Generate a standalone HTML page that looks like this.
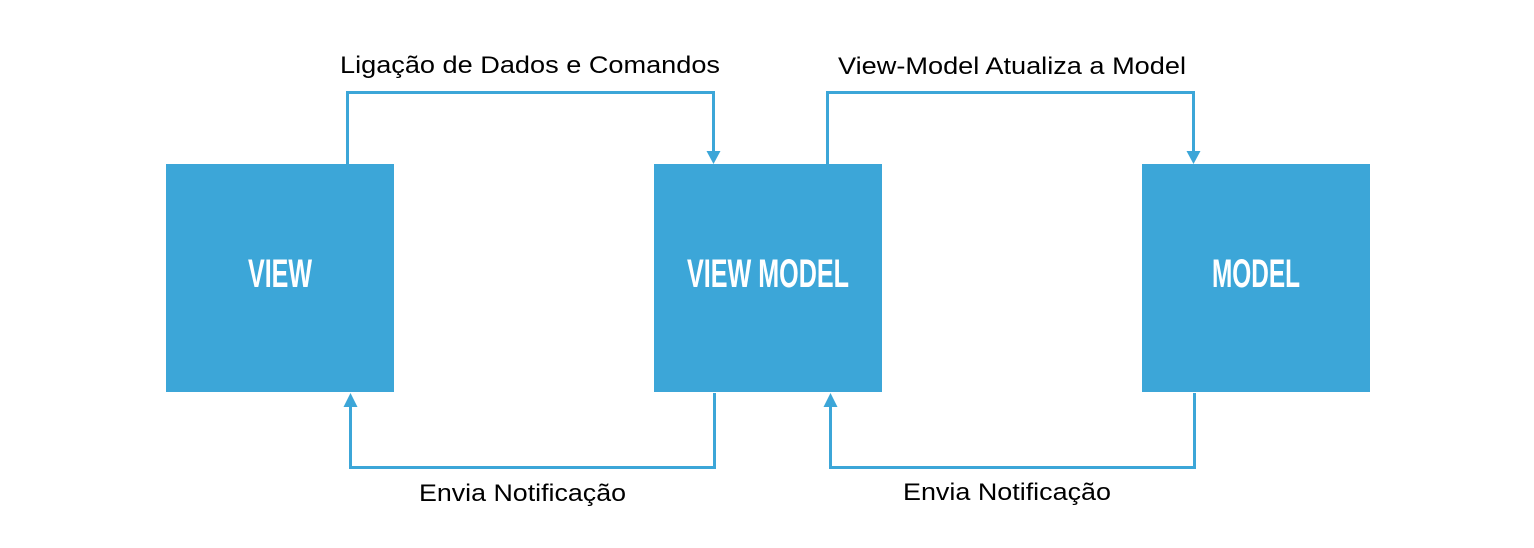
<!DOCTYPE html>
<html><head><meta charset="utf-8"><style>html,body{margin:0;padding:0;background:#fff}svg{display:block}</style></head><body>
<svg width="1534" height="548" viewBox="0 0 1534 548" xmlns="http://www.w3.org/2000/svg">
<g fill="#3ca6d8">
<rect x="166" y="164" width="228" height="228"/>
<rect x="654" y="164" width="228" height="228"/>
<rect x="1142" y="164" width="228" height="228"/>
</g>
<g fill="none" stroke="#3ca6d8" stroke-width="3">
<polyline points="347.5,164 347.5,92.5 713.5,92.5 713.5,153"/>
<polyline points="827.5,164 827.5,92.5 1193.5,92.5 1193.5,153"/>
<polyline points="714.5,393 714.5,467.5 350.5,467.5 350.5,405"/>
<polyline points="1194.5,393 1194.5,467.5 830.5,467.5 830.5,405"/>
</g>
<g fill="#3ca6d8">
<polygon points="706.5,151 720.5,151 713.5,164"/>
<polygon points="1186.5,151 1200.5,151 1193.5,164"/>
<polygon points="343.5,407 357.5,407 350.5,393"/>
<polygon points="823.5,407 837.5,407 830.5,393"/>
</g>
<g fill="#fff" font-family="Liberation Sans, sans-serif" font-weight="bold" font-size="40">
<text x="248" y="287" textLength="64" lengthAdjust="spacingAndGlyphs">VIEW</text>
<text x="687" y="287" textLength="162" lengthAdjust="spacingAndGlyphs">VIEW MODEL</text>
<text x="1212" y="287" textLength="88" lengthAdjust="spacingAndGlyphs">MODEL</text>
</g>
<g fill="#000" font-family="Liberation Sans, sans-serif" font-size="24">
<text x="340" y="73" textLength="380" lengthAdjust="spacingAndGlyphs">Ligação de Dados e Comandos</text>
<text x="838" y="74" textLength="348" lengthAdjust="spacingAndGlyphs">View-Model Atualiza a Model</text>
<text x="419" y="501" textLength="207" lengthAdjust="spacingAndGlyphs">Envia Notificação</text>
<text x="903" y="500" textLength="208" lengthAdjust="spacingAndGlyphs">Envia Notificação</text>
</g>
</svg>
</body></html>
